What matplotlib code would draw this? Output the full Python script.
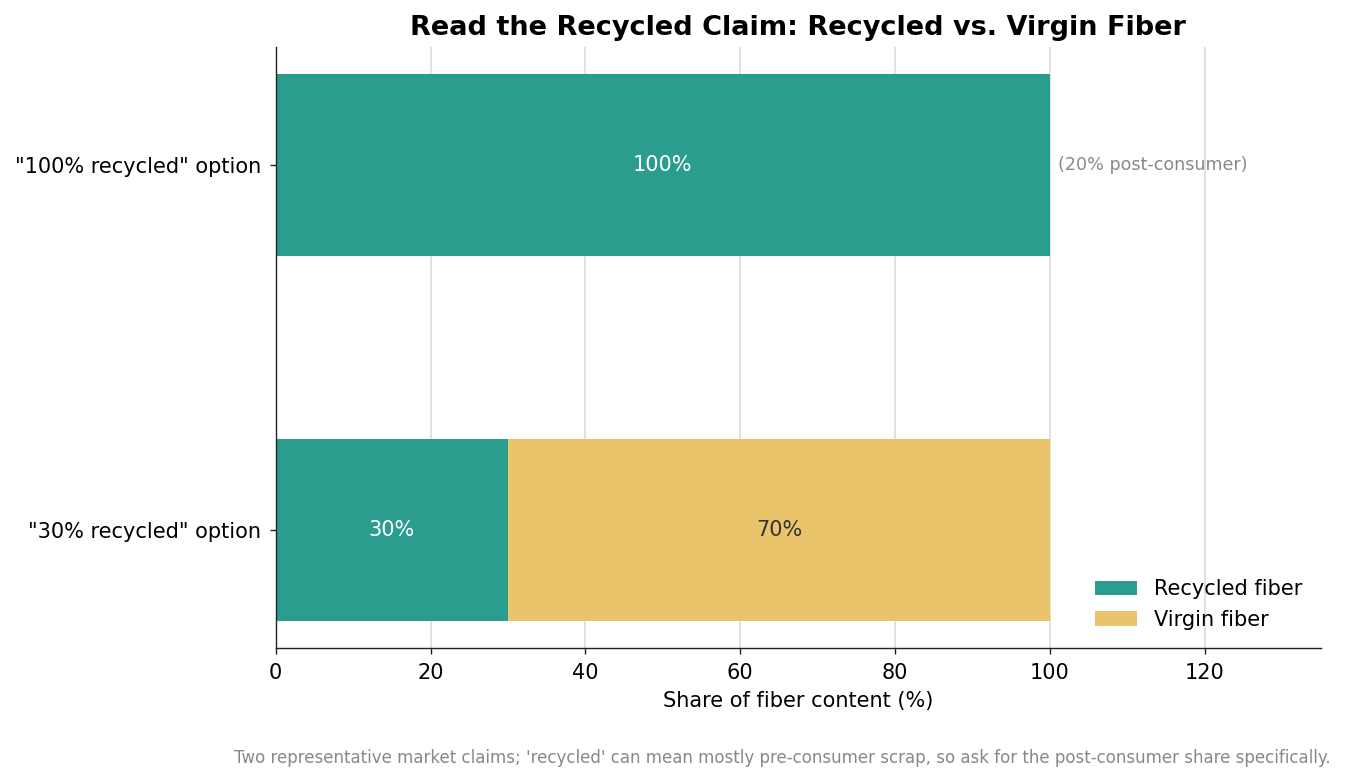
import matplotlib
matplotlib.use("Agg")
import matplotlib.pyplot as plt
import numpy as np

plt.rcParams["font.family"] = ["DejaVu Sans"]

options = ['"30% recycled" option', '"100% recycled" option']
recycled = [30, 100]
virgin = [70, 0]
post_consumer_note = "(20% post-consumer)"

teal = "#2a9d8f"
sand = "#e9c46a"

fig, ax = plt.subplots(figsize=(10.76, 6.256), dpi=125)
fig.subplots_adjust(left=0.205, right=0.982, top=0.94, bottom=0.171)

y = np.arange(len(options))
h = 0.5
b1 = ax.barh(y, recycled, h, color=teal, label="Recycled fiber", zorder=2)
b2 = ax.barh(y, virgin, h, left=recycled, color=sand, label="Virgin fiber", zorder=2)

for i in range(len(options)):
    if recycled[i] > 0:
        ax.text(recycled[i] / 2, y[i], f"{recycled[i]}%", ha="center", va="center",
                color="white", fontsize=12)
    if virgin[i] > 0:
        ax.text(recycled[i] + virgin[i] / 2, y[i], f"{virgin[i]}%", ha="center",
                va="center", color="#333333", fontsize=12)

ax.text(recycled[1] + virgin[1] + 1, y[1], post_consumer_note, ha="left", va="center",
        color="#888888", fontsize=10.1)

ax.set_yticks(y, options)
ax.set_xlim(0, 135)
ax.set_xticks([0, 20, 40, 60, 80, 100, 120])
ax.tick_params(labelsize=12, colors="#222222", labelcolor="black")
ax.tick_params(axis="x", pad=5)
ax.tick_params(axis="y", pad=4.8)
ax.set_xlabel("Share of fiber content (%)", fontsize=12, labelpad=4.4)
ax.set_title("Read the Recycled Claim: Recycled vs. Virgin Fiber", fontsize=15.6,
             fontweight="bold", pad=7)
ax.grid(axis="x", color="#dddddd", linewidth=1, zorder=0)
ax.set_axisbelow(True)
for s in ["top", "right"]:
    ax.spines[s].set_visible(False)
for s in ["left", "bottom"]:
    ax.spines[s].set_color("#222222")
ax.legend(loc="lower right", frameon=False, fontsize=12)

fig.text(0.989, 0.019,
         "Two representative market claims; 'recycled' can mean mostly pre-consumer scrap, "
         "so ask for the post-consumer share specifically.",
         ha="right", va="bottom", color="#888888", fontsize=9.55)

plt.savefig("out.png", dpi=125)
